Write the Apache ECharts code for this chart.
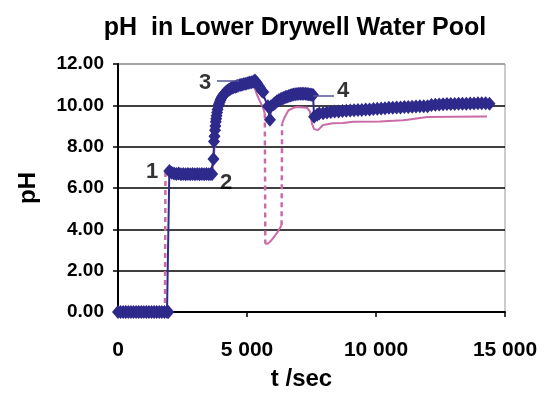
<!DOCTYPE html>
<html><head><meta charset="utf-8">
<script src="https://cdn.jsdelivr.net/npm/echarts@6/dist/echarts.min.js"></script>
<style>html,body{margin:0;padding:0;background:#fff}#c{width:545px;height:402px}</style>
</head><body><div id="c"></div>
<script>
const titleText = 'pH  in Lower Drywell Water Pool';
const xAxisName = 't /sec';
const yAxisName = 'pH';
const xTicks = [0, 5000, 10000, 15000];
const yTicks = [0, 2, 4, 6, 8, 10, 12];

// dark blue series (diamond markers)
const blueT = [0,100,200,300,400,500,600,700,800,900,1000,1100,1200,1300,1400,1500,1600,1700,1800,1900,1950,
  1990,2080,2170,2260,2350,2440,2530,2620,2710,2800,2890,2980,3070,3160,3250,3340,3430,3520,3600,3650,
  3700,3720,3740,3760,3775,3790,3805,3820,3840,3860,3885,3910,3940,3970,4000,4030,4070,4110,4150,4190,4240,4300,4360,4420,4480,4550,4600,4650,4730,4800,4880,4960,5040,5110,5180,5250,5310,5360,5400,5450,5500,5570,5630,
  5810,5890,5930,6030,6100,6160,6230,6300,6360,6420,6490,6550,6620,6680,6740,6800,6870,6940,7010,7080,7140,7200,7270,7330,7390,7450,7510,7560,
  7600,7720,7800,7950,8100,8250,8400,8550,8700,8850,9000,9150,9300,9450,9600,9750,9900,10050,10200,10350,10500,10650,10800,10950,
  11100,11250,11400,11550,11700,11850,12000,12150,12300,12450,12600,12750,12900,13050,13200,13350,13500,13650,13800,13950,14100,14250,14400];
const bluePH = [0,0,0,0,0,0,0,0,0,0,0,0,0,0,0,0,0,0,0,0,0,
  6.82,6.74,6.70,6.68,6.70,6.66,6.68,6.66,6.68,6.66,6.68,6.66,6.68,6.66,6.68,6.66,6.68,6.66,6.68,6.68,
  7.4,8.25,8.5,8.8,9.0,9.2,9.35,9.5,9.65,9.8,9.95,10.05,10.15,10.25,10.33,10.4,10.48,10.55,10.6,10.65,10.7,10.75,10.8,10.85,10.88,10.9,10.92,10.95,10.98,11.0,11.03,11.05,11.08,11.1,11.12,11.15,11.2,11.12,11.05,10.95,10.85,10.7,10.65,
  9.95,9.3,9.95,10.05,10.12,10.2,10.25,10.3,10.33,10.36,10.4,10.42,10.45,10.48,10.5,10.52,10.54,10.55,10.56,10.56,10.56,10.56,10.56,10.55,10.54,10.52,10.51,10.5,
  9.45,9.55,9.6,9.62,9.65,9.68,9.7,9.7,9.72,9.74,9.75,9.76,9.78,9.78,9.8,9.8,9.82,9.84,9.85,9.86,9.88,9.88,9.9,9.9,
  9.92,9.92,9.93,9.94,9.95,9.95,9.96,10.02,10.03,10.04,10.05,10.06,10.07,10.07,10.08,10.08,10.08,10.09,10.09,10.1,10.1,10.1,10.08];

// pink series (no markers)
const pinkT = [0,1820,1840,1990,3650,3760,3820,3910,4030,4190,4420,4730,5040,5250,5390,5500,5620,5690,5710,5800,5890,6000,6150,6340,
  6360,6450,6600,6800,6950,7330,7440,7520,7600,7750,7950,8330,8720,9110,10150,11050,11300,11980,13000,14300];
const pinkPH = [0,0,6.8,6.8,6.68,8.2,9.3,10.0,10.35,10.6,10.8,10.95,11.0,11.0,10.5,10.2,9.9,9.6,3.3,3.3,3.4,3.55,3.8,4.2,
  9.1,9.4,9.75,9.88,9.92,9.88,9.7,9.1,8.85,8.8,9.05,9.13,9.15,9.2,9.22,9.28,9.32,9.43,9.45,9.46];

// annotation numbers
const noteText = ['1', '2', '3', '4'];
const noteT = [1318, 4186, 3372, 8721];
const notePH = [6.77, 6.24, 11.08, 10.69];
const leader3T = [3837, 4690];
const leader3PH = [11.18, 11.18];
const leader4T = [7560, 8370];
const leader4PH = [10.45, 10.45];

const NAVY = '#2e2a8c';
const PINK = '#cc6aa8';
const FONT = 'Liberation Sans';

const blueData = blueT.map((t, i) => [t, bluePH[i]]);
// split pink into solid (gradual) and dashed (big jumps) parts
const pinkSolid = [], pinkDash = [];
for (let i = 0; i < pinkT.length; i++) {
  pinkSolid.push([pinkT[i], pinkPH[i]]);
  if (i < pinkT.length - 1 && Math.abs(pinkPH[i + 1] - pinkPH[i]) > 2) {
    pinkSolid.push([pinkT[i], null]);
    pinkDash.push([pinkT[i], pinkPH[i]], [pinkT[i + 1], pinkPH[i + 1]], [pinkT[i + 1], null]);
  }
}
const notes = noteT.map((t, i) => ({ value: [t, notePH[i]], name: noteText[i] }));

const fmtX = v => String(v).replace(/\B(?=(\d{3})+(?!\d))/g, ' ');

const chart = echarts.init(document.getElementById('c'), null, { renderer: 'canvas' });
chart.setOption({
  animation: false,
  backgroundColor: '#fff',
  title: {
    text: titleText, left: 290, top: 11, textAlign: 'center',
    textStyle: { fontFamily: FONT, fontWeight: 'bold', fontSize: 25, color: '#000' }
  },
  grid: { left: 118, right: 40, top: 64, bottom: 90, show: true, borderColor: '#999', borderWidth: 1 },
  xAxis: {
    type: 'value', min: xTicks[0], max: xTicks[xTicks.length - 1], interval: xTicks[1] - xTicks[0],
    name: xAxisName, nameLocation: 'middle', nameGap: 55,
    nameTextStyle: { fontFamily: FONT, fontWeight: 'bold', fontSize: 24, color: '#000', padding: [0, 20, 0, 0] },
    axisLine: { show: true, lineStyle: { color: '#000', width: 2 } },
    axisTick: { show: true, length: 5, lineStyle: { color: '#000', width: 1.5 } },
    splitLine: { show: false },
    axisLabel: { margin: 28, fontFamily: FONT, fontWeight: 'bold', fontSize: 21, color: '#000', formatter: fmtX }
  },
  yAxis: {
    type: 'value', min: yTicks[0], max: yTicks[yTicks.length - 1], interval: yTicks[1] - yTicks[0],
    name: yAxisName, nameLocation: 'middle', nameGap: 78, nameRotate: 90,
    nameTextStyle: { fontFamily: FONT, fontWeight: 'bold', fontSize: 24, color: '#000' },
    axisLine: { show: true, lineStyle: { color: '#000', width: 2 } },
    axisTick: { show: true, length: 5, lineStyle: { color: '#000', width: 1.5 } },
    splitLine: { show: true, lineStyle: { color: ['#000', '#000', '#000', '#000', '#000', '#000', '#999'], width: 1.6 } },
    axisLabel: { margin: 14, fontFamily: FONT, fontWeight: 'bold', fontSize: 19, color: '#000', formatter: v => v.toFixed(2) }
  },
  series: [
    { type: 'line', data: pinkSolid, symbol: 'none', connectNulls: false, z: 2,
      lineStyle: { color: PINK, width: 2 } },
    { type: 'line', data: pinkDash, symbol: 'none', connectNulls: false, z: 2,
      lineStyle: { color: PINK, width: 2.5, type: [5, 4] } },
    { type: 'line', data: blueData, symbol: 'diamond', symbolSize: [12, 14], showAllSymbol: true, z: 3,
      itemStyle: { color: NAVY, borderWidth: 0 }, lineStyle: { color: NAVY, width: 2 } },
    { type: 'line', data: leader3T.map((t, i) => [t, leader3PH[i]]), symbol: 'none', z: 4,
      lineStyle: { color: '#55559a', width: 1.5 } },
    { type: 'line', data: leader4T.map((t, i) => [t, leader4PH[i]]), symbol: 'none', z: 4,
      lineStyle: { color: '#55559a', width: 1.5 } },
    { type: 'scatter', data: notes, symbolSize: 0, z: 5,
      label: { show: true, position: 'inside', formatter: p => p.name,
        fontFamily: FONT, fontWeight: 'bold', fontSize: 22, color: '#000' } }
  ]
});
</script></body></html>
